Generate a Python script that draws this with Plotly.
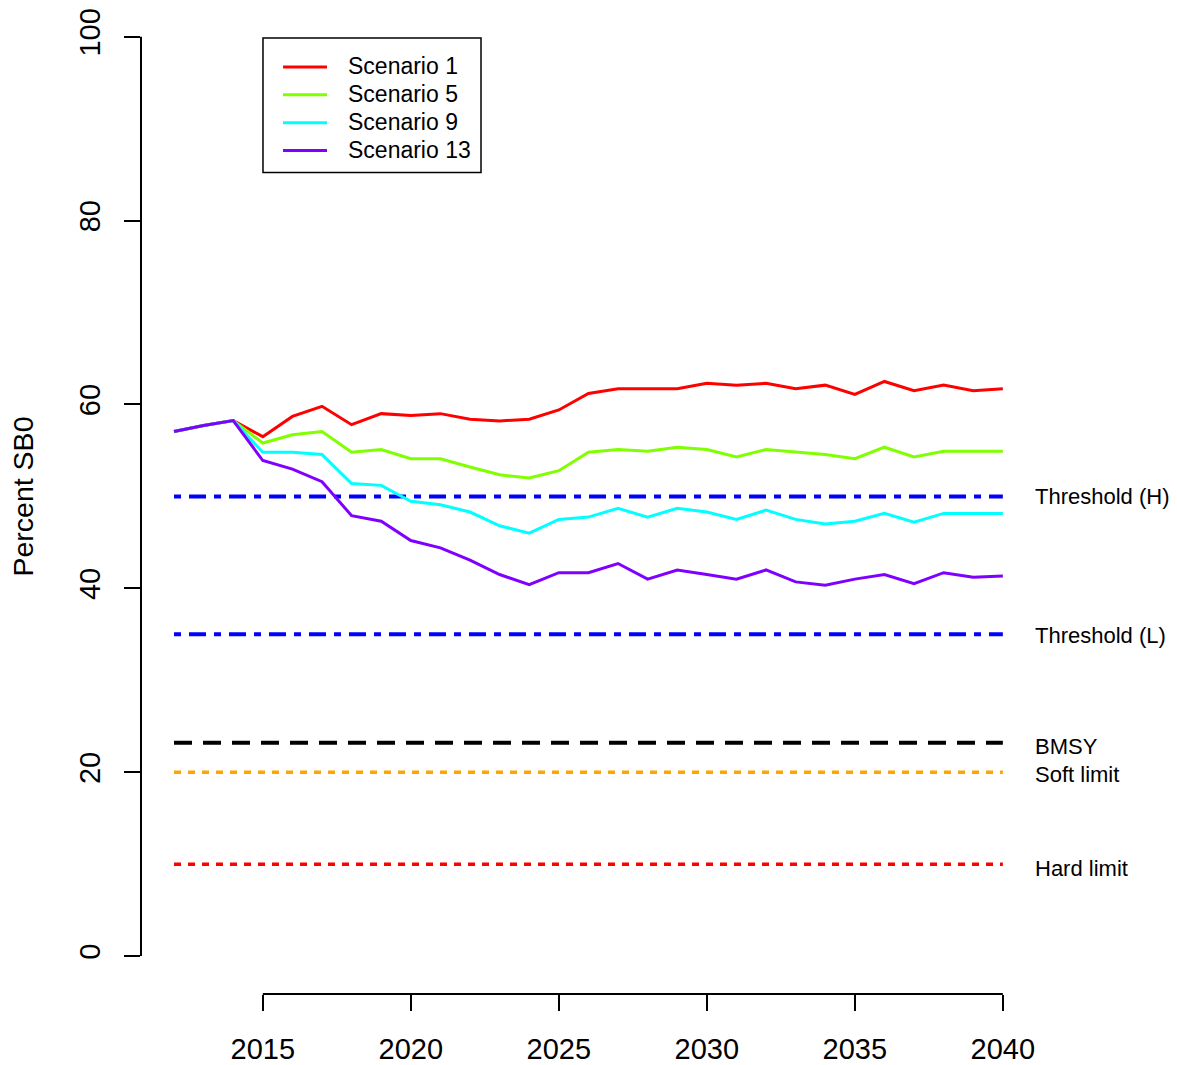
import plotly.graph_objects as go

years = list(range(2012, 2041))
scenario_names = ["Scenario 1", "Scenario 5", "Scenario 9", "Scenario 13"]
scenario_colors = ["#FF0000", "#80FF00", "#00FFFF", "#8000FF"]
s1 = [57.05, 57.7, 58.24, 56.5, 58.7, 59.8, 57.8, 59.0, 58.8, 59.0, 58.4, 58.2, 58.4, 59.4,
      61.2, 61.7, 61.7, 61.7, 62.3, 62.1, 62.3, 61.7, 62.1, 61.1, 62.5, 61.5, 62.1, 61.5, 61.7]
s5 = [57.05, 57.7, 58.24, 55.8, 56.7, 57.05, 54.8, 55.1, 54.1, 54.1, 53.2, 52.35, 52.0, 52.8,
      54.8, 55.1, 54.9, 55.35, 55.1, 54.3, 55.1, 54.8, 54.55, 54.1, 55.35, 54.3, 54.9, 54.9, 54.9]
s9 = [57.05, 57.7, 58.24, 54.8, 54.8, 54.55, 51.4, 51.2, 49.46, 49.1, 48.3, 46.8, 46.0, 47.5,
      47.75, 48.7, 47.75, 48.7, 48.3, 47.5, 48.5, 47.5, 47.0, 47.3, 48.15, 47.2, 48.15, 48.15, 48.15]
s13 = [57.05, 57.7, 58.24, 53.9, 52.97, 51.6, 47.9, 47.3, 45.2, 44.4, 43.06, 41.5, 40.4, 41.7,
       41.7, 42.7, 41.0, 42.0, 41.5, 41.0, 42.0, 40.7, 40.35, 41.0, 41.5, 40.5, 41.7, 41.2, 41.35]
scenarios = [s1, s5, s9, s13]

ref_labels = ["Threshold (H)", "Threshold (L)", "BMSY", "Soft limit", "Hard limit"]
ref_levels = [50, 35, 23.2, 20, 10]
ref_colors = ["#0000FF", "#0000FF", "#000000", "#FFA500", "#FF0000"]
ref_dash = ["7px,8px,17px,8px", "7px,8px,17px,8px", "18px,11px", "7px,7px", "7px,7px"]
ref_width = [4, 4, 4, 3.5, 3.5]
ref_label_shift = [-0.5, -1, -4, -2, -4]

x_ticks = [2015, 2020, 2025, 2030, 2035, 2040]
y_ticks = [0, 20, 40, 60, 80, 100]

FONT = "Liberation Sans, Arial, Helvetica, sans-serif"

fig = go.Figure()

for lab, lev, col, dsh, w in zip(ref_labels, ref_levels, ref_colors, ref_dash, ref_width):
    fig.add_trace(go.Scatter(x=[years[0], years[-1]], y=[lev, lev], mode="lines",
                             line=dict(color=col, width=w, dash=dsh),
                             showlegend=False, hoverinfo="skip", name=lab))

for name, col, vals in zip(scenario_names, scenario_colors, scenarios):
    fig.add_trace(go.Scatter(x=years, y=vals, mode="lines", name=name,
                             line=dict(color=col, width=3), showlegend=False))

for lab, lev, sh in zip(ref_labels, ref_levels, ref_label_shift):
    fig.add_annotation(x=1.0, xref="paper", y=lev, yref="y", text=lab, showarrow=False,
                       xanchor="left", yanchor="middle", xshift=-3, yshift=sh,
                       font=dict(family=FONT, size=22, color="#000000"))

fig.add_annotation(x=-0.1318, xref="paper", y=0.5056, yref="paper", text="Percent SB0",
                   textangle=-90, showarrow=False, xanchor="center", yanchor="middle",
                   font=dict(family=FONT, size=28.5, color="#000000"))

# legend drawn R-style (box, line keys, labels)
leg_x0, leg_x1, leg_y0, leg_y1 = 0.1363, 0.3799, 0.8349, 0.9716
key_x0, key_x1, txt_x = 0.1587, 0.2078, 0.2296
row_y = [0.9422, 0.9139, 0.8855, 0.8571]
fig.add_shape(type="rect", xref="paper", yref="paper", x0=leg_x0, x1=leg_x1, y0=leg_y0, y1=leg_y1,
              line=dict(color="#000000", width=1.5), fillcolor="white", layer="above")
for name, col, ry in zip(scenario_names, scenario_colors, row_y):
    fig.add_shape(type="line", xref="paper", yref="paper", x0=key_x0, x1=key_x1, y0=ry, y1=ry,
                  line=dict(color=col, width=3), layer="above")
    fig.add_annotation(x=txt_x, xref="paper", y=ry, yref="paper", text=name, showarrow=False,
                       xanchor="left", yanchor="middle", yshift=0.5,
                       font=dict(family=FONT, size=23, color="#000000"))

# axis lines spanning the tick range only (R style)
fig.add_shape(type="line", xref="paper", yref="y", x0=0, x1=0, y0=y_ticks[0], y1=y_ticks[-1],
              line=dict(color="#000000", width=2))
fig.add_shape(type="line", xref="x", yref="paper", x0=x_ticks[0], x1=x_ticks[-1], y0=0, y1=0,
              line=dict(color="#000000", width=2))

fig.update_layout(
    width=1169, height=1057,
    margin=dict(l=133, r=141, t=0, b=70),
    paper_bgcolor="white", plot_bgcolor="white",
    font=dict(family=FONT, color="#000000"),
    showlegend=False,
    xaxis=dict(range=[2010.885, 2041.12], showgrid=False, zeroline=False, showline=False,
               tickmode="array", tickvals=x_ticks, ticktext=[str(v) for v in x_ticks],
               ticks="outside", ticklen=16, tickwidth=2, tickcolor="#000000",
               tickfont=dict(family=FONT, size=29, color="#000000"), ticklabelstandoff=13,
               ticklabeloverflow="allow"),
    yaxis=dict(range=[-4.12, 102.9], showgrid=False, zeroline=False, showline=False,
               tickmode="array", tickvals=y_ticks, ticktext=[str(v) for v in y_ticks],
               ticks="outside", ticklen=16, tickwidth=2, tickcolor="#000000", tickangle=-90,
               tickfont=dict(family=FONT, size=29, color="#000000"), ticklabelstandoff=12,
               ticklabeloverflow="allow"),
)

fig.write_html("out.html")
